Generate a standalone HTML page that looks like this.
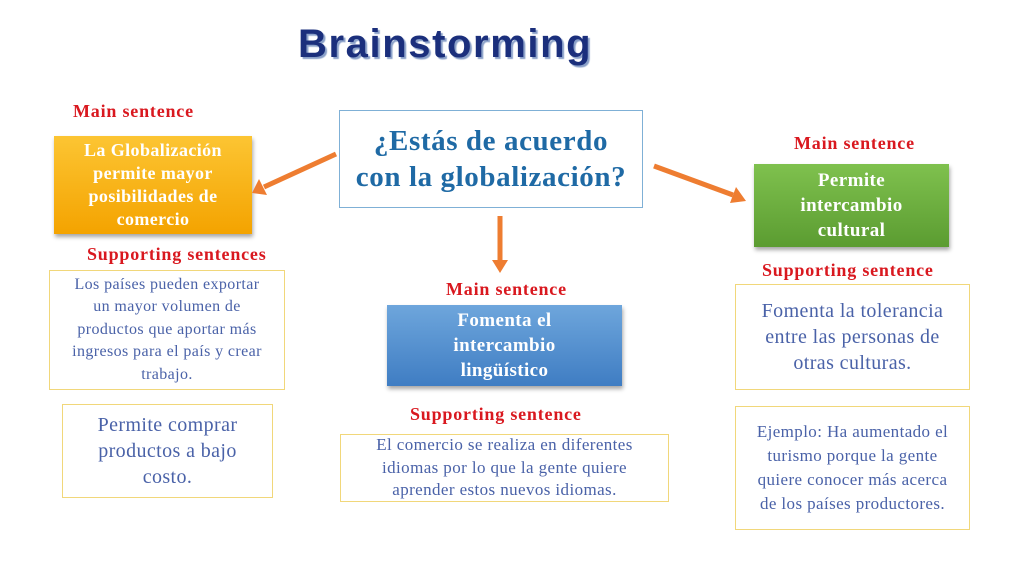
<!DOCTYPE html>
<html><head><meta charset="utf-8"><style>
body{margin:0;width:1024px;height:576px;background:#fff;position:relative;overflow:hidden;font-family:"Liberation Serif",serif}
.a{position:absolute}
.red{color:#d9181f;font-weight:bold;font-size:18px;letter-spacing:0.8px;white-space:nowrap}
.box{position:absolute;box-sizing:border-box;display:flex;align-items:center;justify-content:center;text-align:center;letter-spacing:0.4px}
.yb{border:1.5px solid #f1d77a;color:#4a62a8}
.fill{color:#fff;font-weight:bold;box-shadow:1px 3px 4px rgba(0,0,0,.35);line-height:1.32}
</style></head><body>
<div class="a" style="left:298px;top:22px;font-family:'Liberation Sans',sans-serif;font-weight:900;font-size:40px;color:#1b2f7c;text-shadow:2px 2px 1px #8aa0c8;letter-spacing:1.6px">Brainstorming</div>

<div class="a red" style="left:73px;top:101px">Main sentence</div>
<div class="box fill" style="left:54px;top:136px;width:198px;height:98px;background:linear-gradient(#fcc533,#f4a300);font-size:18px;line-height:1.27">La Globalización<br>permite mayor<br>posibilidades de<br>comercio</div>
<div class="a red" style="left:87px;top:244px">Supporting sentences</div>
<div class="box yb" style="left:49px;top:270px;width:236px;height:120px;font-size:16px;line-height:1.4">Los países pueden exportar<br>un mayor volumen de<br>productos que aportar más<br>ingresos para el país y crear<br>trabajo.</div>
<div class="box yb" style="left:62px;top:404px;width:211px;height:94px;font-size:20px;line-height:1.3">Permite comprar<br>productos a bajo<br>costo.</div>

<div class="box" style="left:339px;top:110px;width:304px;height:98px;border:1px solid #7fb0d6;color:#1f6aa5;font-weight:bold;font-size:29px;letter-spacing:0.6px;line-height:1.25">¿Estás de acuerdo<br>con la globalización?</div>

<svg class="a" style="left:0;top:0" width="1024" height="576">
<g stroke="#ee7d31" stroke-width="5" fill="#ee7d31">
<line x1="336" y1="154" x2="264" y2="187"/>
<line x1="500" y1="216" x2="500" y2="262"/>
<line x1="654" y1="166" x2="733" y2="195"/>
</g>
<g fill="#ee7d31">
<polygon points="252,193 259,179 267,195"/>
<polygon points="500,273 492,260 508,260"/>
<polygon points="746,201 730,203 736,187"/>
</g>
</svg>

<div class="a red" style="left:446px;top:279px">Main sentence</div>
<div class="box fill" style="left:387px;top:305px;width:235px;height:81px;background:linear-gradient(#6ea6dc,#3f7dc3);font-size:19px">Fomenta el<br>intercambio<br>lingüístico</div>
<div class="a red" style="left:410px;top:404px">Supporting sentence</div>
<div class="box yb" style="left:340px;top:434px;width:329px;height:68px;font-size:17px;line-height:1.35">El comercio se realiza en diferentes<br>idiomas por lo que la gente quiere<br>aprender estos nuevos idiomas.</div>

<div class="a red" style="left:794px;top:133px">Main sentence</div>
<div class="box fill" style="left:754px;top:164px;width:195px;height:83px;background:linear-gradient(#7fc14e,#5b9c31);font-size:19px">Permite<br>intercambio<br>cultural</div>
<div class="a red" style="left:762px;top:260px">Supporting sentence</div>
<div class="box yb" style="left:735px;top:284px;width:235px;height:106px;font-size:20px;line-height:1.3">Fomenta la tolerancia<br>entre las personas de<br>otras culturas.</div>
<div class="box yb" style="left:735px;top:406px;width:235px;height:124px;font-size:17px;line-height:1.4">Ejemplo: Ha aumentado el<br>turismo porque la gente<br>quiere conocer más acerca<br>de los países productores.</div>
</body></html>
